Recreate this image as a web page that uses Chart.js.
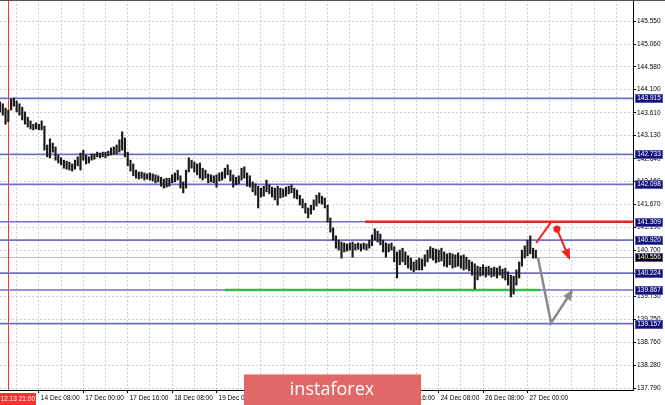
<!DOCTYPE html>
<html><head><meta charset="utf-8">
<script src="https://cdn.jsdelivr.net/npm/chart.js@4.4.1/dist/chart.umd.min.js"></script>
<style>html,body{margin:0;padding:0;background:#fff;overflow:hidden}#wrap{width:665px;height:405px;position:relative}</style>
</head><body><div id="wrap"><canvas id="c" width="665" height="405"></canvas></div>
<script>
// ---- data (hourly bars, index 0 = 13 Dec 18:00) ----
const highs=[143.84,143.80,143.71,143.67,143.90,143.92,143.86,143.80,143.73,143.63,
143.52,143.44,143.37,143.40,143.37,143.44,143.33,142.93,143.06,142.97,
142.89,142.72,142.66,142.61,142.59,142.57,142.53,142.61,142.68,142.76,
142.82,142.72,142.68,142.74,142.74,142.78,142.76,142.78,142.78,142.80,
142.87,142.89,142.93,143.04,143.21,143.08,142.78,142.61,142.53,142.40,
142.36,142.36,142.34,142.32,142.34,142.32,142.30,142.28,142.25,142.21,
142.23,142.23,142.30,142.34,142.40,142.28,142.15,142.40,142.66,142.61,
142.57,142.53,142.55,142.44,142.40,142.32,142.30,142.28,142.30,142.34,
142.36,142.44,142.51,142.40,142.30,142.25,142.28,142.44,142.47,142.34,
142.28,142.15,142.11,142.06,142.02,142.06,142.19,142.09,142.04,142.02,
142.06,142.02,142.00,142.04,142.06,142.09,142.02,141.98,141.87,141.79,
141.70,141.60,141.66,141.77,141.87,141.92,141.85,141.81,141.66,141.39,
141.18,141.01,140.92,140.88,140.86,140.84,140.86,140.88,140.84,140.86,
140.84,140.86,140.84,140.92,141.03,141.16,141.11,141.05,140.92,140.86,
140.84,140.86,140.78,140.67,140.71,140.75,140.67,140.59,140.54,140.46,
140.50,140.54,140.52,140.61,140.71,140.78,140.75,140.73,140.71,140.75,
140.67,140.63,140.65,140.63,140.61,140.65,140.59,140.61,140.56,140.50,
140.46,140.42,140.37,140.35,140.40,140.35,140.37,140.33,140.35,140.33,
140.37,140.31,140.33,140.25,140.18,140.16,140.29,140.46,140.71,140.80,
140.92,141.01,140.75,140.71];
const lows=[143.63,143.56,143.37,143.42,143.67,143.75,143.63,143.56,143.46,143.37,
143.31,143.27,143.25,143.27,143.25,143.25,142.82,142.68,142.66,142.78,
142.61,142.55,142.51,142.44,142.42,142.40,142.38,142.42,142.49,142.40,
142.61,142.53,142.55,142.61,142.63,142.68,142.66,142.68,142.66,142.70,
142.72,142.74,142.74,142.78,142.82,142.68,142.49,142.38,142.28,142.23,
142.21,142.23,142.19,142.21,142.19,142.17,142.13,142.15,142.06,142.02,
142.04,142.06,142.13,142.15,142.19,142.02,141.92,142.02,142.36,142.44,
142.36,142.30,142.23,142.19,142.23,142.13,142.15,142.13,142.04,142.17,
142.19,142.23,142.30,142.17,142.04,142.09,142.11,142.19,142.23,142.06,
142.04,141.94,141.87,141.60,141.83,141.85,141.94,141.90,141.83,141.77,
141.66,141.81,141.83,141.85,141.90,141.92,141.81,141.79,141.66,141.60,
141.49,141.39,141.47,141.56,141.64,141.70,141.68,141.60,141.30,141.09,
140.92,140.75,140.71,140.54,140.67,140.69,140.71,140.56,140.71,140.73,
140.69,140.73,140.71,140.75,140.80,140.92,140.88,140.82,140.67,140.56,
140.67,140.71,140.46,140.12,140.40,140.46,140.40,140.33,140.29,140.25,
140.29,140.29,140.29,140.37,140.46,140.54,140.50,140.44,140.46,140.48,
140.37,140.35,140.40,140.33,140.35,140.37,140.33,140.29,140.31,140.27,
140.18,139.89,140.08,140.16,140.18,140.14,140.18,140.14,140.16,140.12,
140.18,140.12,140.08,139.97,139.72,139.78,139.97,140.12,140.37,140.54,
140.59,140.63,140.54,140.54];
const levels=[143.915,142.733,142.098,141.309,140.920,140.224,139.867,139.157];
const lastPrice=140.556;
const yTicks=[145.550,145.060,144.580,144.100,143.610,143.130,142.640,142.160,141.670,141.190,140.700,140.220,139.730,139.250,138.760,138.280,137.790];
const xTickIdx=[14,30,46,62,78,94,110,126,142,158,174,190];
const xTickLabels=['14 Dec 08:00','17 Dec 00:00','17 Dec 16:00','18 Dec 08:00','19 Dec 00:00','19 Dec 16:00','20 Dec 08:00','23 Dec 00:00','23 Dec 16:00','24 Dec 08:00','26 Dec 08:00','27 Dec 00:00'];
const markerIdx=3, markerLabel='2019.12.13 21:00';
const resistance={from:131.5,to:228,price:141.309};
const support={from:81,to:194.5,price:139.867};
const redPath1=[[193.1,140.86],[198.5,141.30]];
const redDot=[200.6,141.155];
const redPath2=[[200.6,141.155],[205.0,140.54]];
const grayPath=[[193.8,140.543],[198.5,139.17],[206.0,139.845]];
const watermark='instaforex';

const FONT='Liberation Sans';
const xMin=0,xMax=228,yMin=137.754,yMax=145.994;
const pts=a=>a.map(p=>({x:p[0],y:p[1]}));

const datasets=[];
datasets.push({type:'bar',label:'bars',data:highs.map((h,i)=>({x:i,y:[lows[i],h]})),
  backgroundColor:'#1a1a1a',borderWidth:0,barThickness:1.5,grouped:false,order:2});
levels.forEach(l=>datasets.push({type:'line',data:[{x:xMin,y:l},{x:xMax,y:l}],borderColor:'#6f6fc6',borderWidth:1.6,pointRadius:0,order:5}));
datasets.push({type:'line',data:[{x:resistance.from,y:resistance.price},{x:resistance.to,y:resistance.price}],borderColor:'#ee2020',borderWidth:2.5,pointRadius:0,order:4});
datasets.push({type:'line',data:[{x:support.from,y:support.price},{x:support.to,y:support.price}],borderColor:'#3cb84a',borderWidth:2.5,pointRadius:0,order:4});
datasets.push({type:'line',data:pts(redPath1),borderColor:'#ee2020',borderWidth:2,pointRadius:0,order:1});
datasets.push({type:'line',data:pts(redPath2),borderColor:'#ee2020',borderWidth:2,pointRadius:0,order:1,arrowHead:true});
datasets.push({type:'line',data:pts(grayPath),borderColor:'#8a8a8a',borderWidth:2.5,pointRadius:0,order:1,arrowHead:true});
datasets.push({type:'line',data:[{x:redDot[0],y:redDot[1]}],showLine:false,pointRadius:3.6,pointBackgroundColor:'#ee2020',pointBorderWidth:0,order:0});

const gridX=[];for(let t=6;t<=xMax;t+=8)gridX.push(t);

const deco={id:'deco',
  beforeDatasetsDraw(c){const {ctx,chartArea:a,scales:{x,y}}=c;ctx.save();
    const yb=Math.round(y.getPixelForValue(lastPrice))+0.5;
    ctx.strokeStyle='#bdbdbd';ctx.lineWidth=1;ctx.beginPath();ctx.moveTo(a.left,yb);ctx.lineTo(a.right,yb);ctx.stroke();
    const xm=Math.round(x.getPixelForValue(markerIdx))+0.5;
    ctx.strokeStyle='#ff3030';ctx.beginPath();ctx.moveTo(xm,0);ctx.lineTo(xm,a.bottom);ctx.stroke();
    ctx.restore();},
  afterDatasetsDraw(c){const {ctx}=c;
    c.data.datasets.forEach((d,i)=>{if(!d.arrowHead)return;const m=c.getDatasetMeta(i).data;const p1=m[m.length-2],p2=m[m.length-1];
      const ang=Math.atan2(p2.y-p1.y,p2.x-p1.x);const L=9,W=4.5;ctx.save();ctx.fillStyle=d.borderColor;ctx.translate(p2.x,p2.y);ctx.rotate(ang);
      ctx.beginPath();ctx.moveTo(2,0);ctx.lineTo(-L,-W);ctx.lineTo(-L,W);ctx.closePath();ctx.fill();ctx.restore();});},
  afterDraw(c){const {ctx,chartArea:a,scales:{x,y}}=c;ctx.save();
    ctx.fillStyle='#555';ctx.fillRect(0,0,665,1);
    ctx.font='6.5px "'+FONT+'"';ctx.textBaseline='middle';ctx.textAlign='center';
    const box=(v,fill)=>{const yy=Math.round(y.getPixelForValue(v));ctx.fillStyle=fill;ctx.fillRect(a.right+2,yy-4,28,9);
      ctx.strokeStyle='#5858b0';ctx.lineWidth=1;ctx.strokeRect(a.right+2.5,yy-3.5,27,8);ctx.fillStyle='#fff';ctx.fillText(v.toFixed(3),a.right+16,yy+0.5);};
    levels.forEach(l=>box(l,'#12127a'));
    box(lastPrice,'#000');
    const xm=Math.round(x.getPixelForValue(markerIdx));
    ctx.fillStyle='#ff3030';ctx.fillRect(xm-30,a.bottom+3,58,12);
    ctx.fillStyle='#fff';ctx.textAlign='right';ctx.fillText(markerLabel,xm+27,a.bottom+9);
    ctx.fillStyle='#e26868';ctx.fillRect(244,374,177,31);
    ctx.fillStyle='#f0a6a6';ctx.fillRect(244,374,177,1);
    ctx.fillStyle='#fff';ctx.font='18px "Open Sans"';ctx.textAlign='center';ctx.textBaseline='alphabetic';ctx.fillText(watermark,332,395);
    ctx.restore();}
};

new Chart(document.getElementById('c'),{
  type:'bar',
  data:{datasets},
  plugins:[deco],
  options:{responsive:false,animation:false,devicePixelRatio:1,
    layout:{padding:0,autoPadding:false},
    plugins:{legend:{display:false},tooltip:{enabled:false}},
    scales:{
      x:{type:'linear',min:xMin,max:xMax,offset:false,position:'bottom',
        afterBuildTicks(s){s.ticks=gridX.map(v=>({value:v}));},
        afterFit(s){s.height=15;s.paddingLeft=0;s.paddingRight=0;},
        grid:{offset:false,color:'#cfcfcf',lineWidth:1,tickLength:3,drawTicks:true,
          tickColor:ctx=>xTickIdx.includes(ctx.tick&&ctx.tick.value)?'#000':'rgba(0,0,0,0)',tickBorderDash:[]},
        border:{display:true,color:'#000',width:1,dash:[2,2]},
        ticks:{autoSkip:false,maxRotation:0,minRotation:0,align:'start',labelOffset:2,padding:1,color:'#000',
          font:{family:FONT,size:6.5},
          callback:v=>{const k=xTickIdx.indexOf(v);return k>=0?xTickLabels[k]:'';}}},
      y:{type:'linear',position:'right',min:yMin,max:yMax,beginAtZero:false,
        afterBuildTicks(s){s.ticks=yTicks.map(v=>({value:v}));},
        afterFit(s){s.width=32;s.paddingTop=0;s.paddingBottom=0;},
        grid:{color:'#cfcfcf',lineWidth:1,tickLength:3,drawTicks:true,tickColor:'#000',tickBorderDash:[]},
        border:{display:true,color:'#000',width:1,dash:[2,2]},
        ticks:{autoSkip:false,padding:1,color:'#000',font:{family:FONT,size:6.5},callback:v=>Number(v).toFixed(3)}}
    }}
});
</script></body></html>
